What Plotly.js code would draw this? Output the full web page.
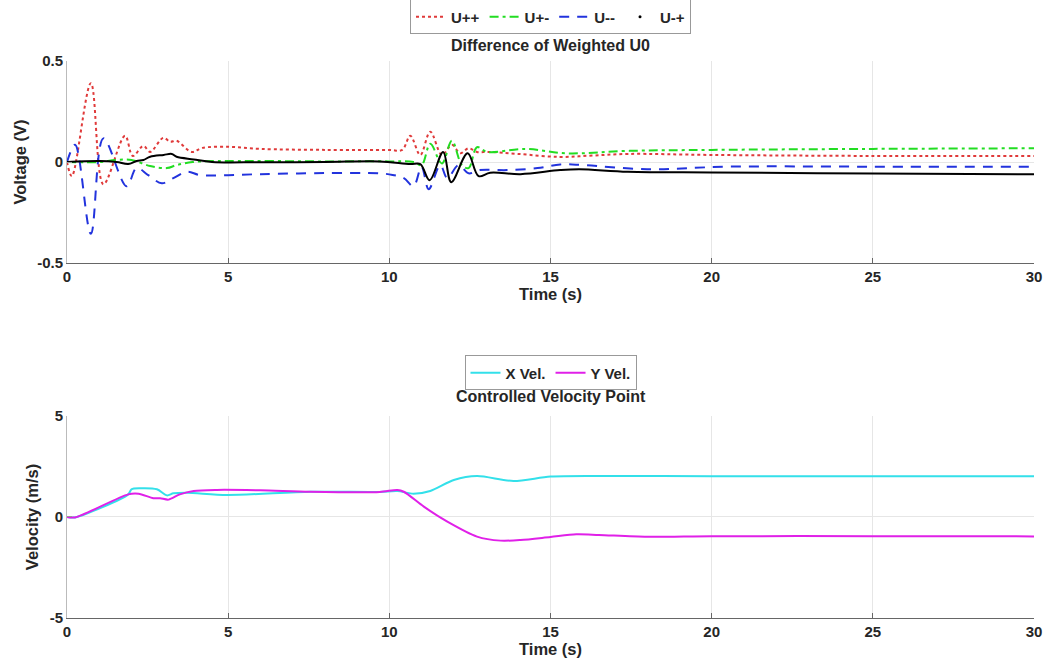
<!DOCTYPE html>
<html><head><meta charset="utf-8">
<script src="https://cdn.plot.ly/plotly-3.0.1.min.js"></script>
<style>body{margin:0;background:#fff}#c{width:1048px;height:662px}</style>
</head><body><div id="c"></div>
<script>
// ---- data ----
const tPP = [0, 0.15, 0.74, 1.13, 1.8, 2.04, 2.37, 2.58, 2.99, 3.2, 3.4, 3.87, 4.2, 5.06, 6, 8, 10, 10.4, 10.65, 10.96, 11.27, 11.63, 11.94, 12.2, 12.46, 12.72, 13.1, 14, 15.3, 16.3, 17.4, 20, 25, 30];
const uPP = [0, -0.07, 0.39, -0.11, 0.13, 0.03, 0.08, 0.05, 0.12, 0.10, 0.105, 0.05, 0.07, 0.075, 0.065, 0.06, 0.06, 0.06, 0.13, 0.035, 0.15, 0.035, 0.085, 0.043, 0.068, 0.05, 0.05, 0.04, 0.025, 0.032, 0.04, 0.035, 0.03, 0.03];

const tPM = [0, 1.0, 1.5, 2.0, 2.58, 3.1, 3.4, 3.9, 5, 8, 10, 10.75, 11.0, 11.27, 11.63, 11.94, 12.25, 12.46, 12.72, 13.03, 14.2, 15.5, 17.4, 20, 25, 30];
const uPM = [0, 0.0, 0.01, 0.01, -0.02, -0.03, -0.015, 0.0, 0.005, 0.003, 0.003, 0.0, -0.015, 0.09, -0.007, 0.105, -0.015, -0.03, 0.073, 0.05, 0.065, 0.043, 0.055, 0.06, 0.065, 0.068];

const tMM = [0, 0.25, 0.74, 1.13, 1.85, 2.16, 2.52, 2.94, 3.3, 3.72, 4.13, 5, 6, 8, 9.7, 10.1, 10.45, 10.75, 11.0, 11.22, 11.58, 11.8, 12.15, 12.46, 12.8, 13.65, 14.6, 15.3, 16, 18, 20.5, 25, 30];
const uMM = [0, 0.085, -0.355, 0.117, -0.12, -0.03, -0.065, -0.105, -0.08, -0.048, -0.065, -0.065, -0.06, -0.055, -0.056, -0.064, -0.08, -0.12, -0.023, -0.135, -0.015, -0.08, -0.015, -0.056, -0.04, -0.04, -0.03, -0.012, -0.015, -0.036, -0.023, -0.023, -0.023];

const tMP = [0, 1.02, 1.54, 1.9, 2.16, 2.37, 2.58, 3.0, 3.25, 3.4, 3.93, 4.5, 6, 8, 9.7, 10.65, 10.96, 11.25, 11.67, 11.92, 12.43, 12.77, 13.13, 14.07, 15.3, 15.9, 17.4, 20, 25, 30];
const uMP = [0, 0.005, 0, -0.01, 0.005, 0.01, 0.026, 0.035, 0.04, 0.026, 0.013, 0, -0.001, 0, 0.003, -0.01, -0.01, -0.09, 0.05, -0.1, 0.043, -0.07, -0.053, -0.06, -0.04, -0.036, -0.048, -0.052, -0.057, -0.061];

const tX = [0, 0.25, 1.9, 2.0, 2.27, 2.79, 3.1, 3.3, 3.72, 4.96, 7.55, 9.7, 10.25, 10.75, 11.27, 12.0, 12.72, 13.85, 15.0, 16.5, 20, 25, 30];
const vX = [0, -0.02, 1.12, 1.37, 1.42, 1.37, 1.07, 1.17, 1.2, 1.09, 1.25, 1.24, 1.28, 1.15, 1.29, 1.83, 2.03, 1.78, 2.0, 2.03, 2.02, 2.02, 2.02];

const tY = [0, 0.25, 1.9, 2.22, 2.68, 2.89, 3.15, 3.5, 3.93, 4.65, 6, 7.55, 9.7, 10.25, 10.45, 11.07, 11.8, 12.72, 13.45, 14.07, 15.0, 15.8, 16.5, 18, 20, 25, 30];
const vY = [0, -0.02, 1.12, 1.15, 0.93, 0.93, 0.86, 1.12, 1.29, 1.34, 1.32, 1.25, 1.24, 1.34, 1.25, 0.51, -0.23, -0.97, -1.17, -1.14, -0.99, -0.86, -0.89, -0.98, -0.95, -0.95, -0.96];

const xTicks = [0, 5, 10, 15, 20, 25, 30];
const xTickText = ['0', '5', '10', '15', '20', '25', '30'];
const y1Ticks = [-0.5, 0, 0.5];
const y1TickText = ['-0.5', '0', '0.5'];
const y2Ticks = [-5, 0, 5];
const y2TickText = ['-5', '0', '5'];

// ---- styling ----
const FONT = 'Liberation Sans, Arial, sans-serif';
const TXT = '#262626';
const bold = (s) => ({family: FONT, size: s, color: TXT, weight: 'bold'});

const traces = [
  {x: tPP, y: uPP, name: 'U++', mode: 'lines', line: {color: '#e03a3a', width: 2, dash: 'dot', shape: 'spline', smoothing: 1}, xaxis: 'x', yaxis: 'y'},
  {x: tPM, y: uPM, name: 'U+-', mode: 'lines', line: {color: '#22dd22', width: 2, dash: '9px,4px,3px,4px', shape: 'spline', smoothing: 1}, xaxis: 'x', yaxis: 'y'},
  {x: tMM, y: uMM, name: 'U--', mode: 'lines', line: {color: '#2233dd', width: 2, dash: '10px,8px', shape: 'spline', smoothing: 1}, xaxis: 'x', yaxis: 'y'},
  {x: tMP, y: uMP, name: 'U-+', mode: 'lines', line: {color: '#000000', width: 2, shape: 'spline', smoothing: 1}, xaxis: 'x', yaxis: 'y', showlegend: false},
  {x: [null], y: [null], name: 'U-+', mode: 'markers', marker: {color: '#000', size: 3}, xaxis: 'x', yaxis: 'y'},
  {x: tX, y: vX, name: 'X Vel.', mode: 'lines', line: {color: '#33e0ea', width: 2, shape: 'spline', smoothing: 0.8}, xaxis: 'x2', yaxis: 'y2', legend: 'legend2'},
  {x: tY, y: vY, name: 'Y Vel.', mode: 'lines', line: {color: '#e020e8', width: 2, shape: 'spline', smoothing: 0.8}, xaxis: 'x2', yaxis: 'y2', legend: 'legend2'}
];

const xCommon = {
  range: [0, 30], tickvals: xTicks, ticktext: xTickText, tickfont: bold(15),
  showgrid: true, gridcolor: '#e6e6e6', zeroline: false,
  showline: true, linecolor: '#666', linewidth: 1, ticks: 'inside', ticklen: 5, tickcolor: '#666'
};
const yCommon = {
  tickfont: bold(15), showgrid: true, gridcolor: '#e6e6e6', zeroline: false,
  showline: true, linecolor: '#bbb', linewidth: 1, ticks: 'inside', ticklen: 5, tickcolor: '#999'
};

const layout = {
  width: 1048, height: 662,
  margin: {l: 67, r: 14, t: 61, b: 44, autoexpand: false},
  paper_bgcolor: '#fff', plot_bgcolor: '#fff',
  showlegend: true,
  xaxis: Object.assign({}, xCommon, {domain: [0, 1], anchor: 'y', title: {text: 'Time (s)', font: bold(16.5), standoff: 2}}),
  yaxis: Object.assign({}, yCommon, {domain: [0.6373, 1], anchor: 'x', range: [-0.5, 0.5], tickvals: y1Ticks, ticktext: y1TickText, title: {text: 'Voltage (V)', font: bold(16.5), standoff: 6}}),
  xaxis2: Object.assign({}, xCommon, {domain: [0, 1], anchor: 'y2', title: {text: 'Time (s)', font: bold(16.5), standoff: 2}}),
  yaxis2: Object.assign({}, yCommon, {domain: [0, 0.3627], anchor: 'x2', range: [-5, 5], tickvals: y2Ticks, ticktext: y2TickText, title: {text: 'Velocity (m/s)', font: bold(16.5), standoff: 6}}),
  legend: {orientation: 'h', x: 0.5, xanchor: 'center', y: 1.079, yanchor: 'middle', bordercolor: '#999', borderwidth: 1, bgcolor: '#fff', font: bold(15), itemwidth: 30, tracegroupgap: 0},
  legend2: {orientation: 'h', x: 0.5, xanchor: 'center', y: 0.44, yanchor: 'middle', bordercolor: '#999', borderwidth: 1, bgcolor: '#fff', font: bold(15), itemwidth: 30},
  annotations: [
    {text: 'Difference of Weighted U0', xref: 'paper', yref: 'paper', x: 0.5, y: 1.0287, yanchor: 'middle', showarrow: false, font: bold(16)},
    {text: 'Controlled Velocity Point', xref: 'paper', yref: 'paper', x: 0.5, y: 0.3968, yanchor: 'middle', showarrow: false, font: bold(16)}
  ]
};

Plotly.newPlot('c', traces, layout, {displayModeBar: false, staticPlot: true});
</script>
</body></html>
